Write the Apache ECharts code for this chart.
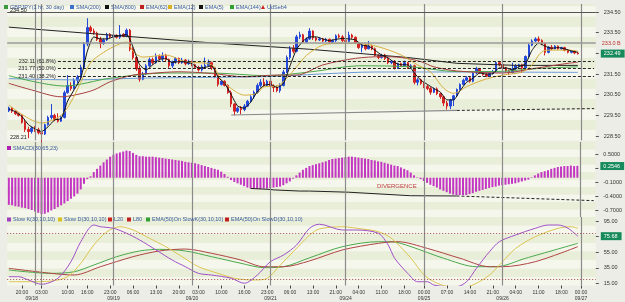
<!DOCTYPE html>
<html>
<head>
<meta charset="utf-8">
<style>
  html, body { margin: 0; padding: 0; background: #ecede6; }
  #chart { width: 625px; height: 302px; }
</style>
<script src="https://cdn.jsdelivr.net/npm/echarts@6/dist/echarts.min.js"></script>
</head>
<body>
<div id="chart"></div>
<script>
// GBPJPY hourly candles [open, close, low, high], 09/17 16:00 .. 09/26 23:00
var candles = [
  [229.72,229.86,229.66,229.92],[229.86,229.70,229.62,229.90],[229.70,229.58,229.52,229.74],[229.58,229.50,229.44,229.64],
  [229.50,229.16,229.10,229.55],[229.16,228.82,228.70,229.30],[228.82,228.72,228.40,228.95],[228.72,228.88,228.62,228.96],
  [228.88,228.80,228.70,228.98],[228.80,228.66,228.58,228.90],[228.66,228.60,228.21,228.78],[228.60,229.05,228.55,229.10],
  [229.05,229.40,229.00,229.48],[229.40,229.50,229.30,230.05],[229.50,229.30,229.22,229.58],[229.30,229.22,229.15,229.60],
  [229.22,229.40,229.18,229.48],[229.40,230.60,229.35,230.70],[230.60,230.95,230.55,231.45],[230.95,230.80,230.70,231.10],
  [230.80,231.20,230.75,231.30],[231.20,231.35,231.05,231.45],[231.35,231.82,231.25,231.95],[231.82,232.95,231.78,233.05],
  [232.95,233.75,232.85,234.20],[233.75,233.58,233.50,233.85],[233.58,233.48,233.40,233.70],[233.48,233.18,233.10,233.55],
  [233.18,232.98,232.75,233.30],[232.98,233.15,232.92,233.22],[233.15,233.42,233.10,233.50],[233.42,233.30,233.25,233.48],
  [233.30,233.38,233.25,233.45],[233.38,233.28,233.22,233.42],[233.28,233.42,233.20,233.87],[233.42,233.32,233.28,233.48],
  [233.32,233.62,233.28,233.70],[233.62,232.70,232.60,233.68],[232.70,232.30,232.20,232.80],[232.30,231.75,231.65,232.35],
  [231.75,231.25,231.13,231.90],[231.25,231.50,231.20,231.60],[231.50,231.90,231.45,231.98],[231.90,232.20,231.85,232.30],
  [232.20,232.05,231.95,232.30],[232.05,232.35,232.00,232.50],[232.35,232.25,232.15,232.45],[232.25,232.40,232.10,232.55],
  [232.40,232.20,232.10,232.48],[232.20,231.90,231.80,232.25],[231.90,232.10,231.80,232.15],[232.10,232.25,232.00,232.32],
  [232.25,232.05,231.98,232.30],[232.05,232.18,232.00,232.28],[232.18,232.00,231.92,232.22],[232.00,232.10,231.95,232.20],
  [232.10,231.95,231.88,232.15],[231.95,231.82,231.75,232.00],[231.82,231.70,231.62,231.90],[231.70,231.85,231.62,231.95],
  [231.85,231.92,231.80,232.30],[231.92,232.05,231.85,232.20],[232.05,231.80,231.70,232.10],[231.80,231.40,231.30,231.85],
  [231.40,231.00,230.90,231.45],[231.00,231.15,230.95,231.22],[231.15,230.95,230.90,231.20],[230.95,230.60,230.55,231.00],
  [230.60,230.05,229.90,230.70],[230.05,229.70,229.50,230.10],[229.70,229.85,229.62,229.92],[229.85,229.78,229.55,229.95],
  [229.78,229.95,229.70,230.05],[229.95,230.18,229.90,230.25],[230.18,230.40,230.10,230.48],[230.40,230.62,230.30,230.70],
  [230.62,230.95,230.55,231.05],[230.95,231.10,230.85,231.25],[231.10,230.95,230.88,231.30],[230.95,231.15,230.90,231.22],
  [231.15,230.92,230.85,231.20],[230.92,230.85,230.63,231.00],[230.85,230.70,230.62,230.95],[230.70,230.95,230.60,231.05],
  [230.95,231.60,230.90,231.70],[231.60,232.30,231.55,232.40],[232.30,232.75,232.20,232.85],[232.75,232.60,232.50,232.90],
  [232.60,233.30,232.55,233.40],[233.30,233.40,233.20,233.55],[233.40,233.05,233.00,233.45],[233.05,233.20,233.00,233.28],
  [233.20,233.58,233.15,233.72],[233.58,233.25,233.15,233.62],[233.25,233.15,233.08,233.30],[233.15,233.20,233.10,233.28],
  [233.20,233.10,233.05,233.25],[233.10,233.18,233.05,233.25],[233.18,233.05,232.98,233.22],[233.05,233.12,233.00,233.18],
  [233.12,233.35,233.05,233.42],[233.35,233.30,233.25,233.45],[233.30,233.12,233.05,233.38],[233.12,233.08,233.00,233.20],
  [233.08,233.38,233.05,233.55],[233.38,233.28,233.20,233.45],[233.28,233.00,232.95,233.32],[233.00,232.78,232.72,233.05],
  [232.78,232.90,232.55,232.95],[232.90,232.72,232.65,232.95],[232.72,232.85,232.70,233.10],[232.85,232.72,232.65,232.92],
  [232.72,232.40,232.35,232.78],[232.40,232.30,232.22,232.45],[232.30,232.42,232.25,232.48],[232.42,232.25,232.18,232.48],
  [232.25,232.05,231.98,232.30],[232.05,232.12,231.98,232.18],[232.12,231.80,231.72,232.18],[231.80,232.00,231.75,232.05],
  [232.00,231.92,231.85,232.05],[231.92,232.05,231.88,232.15],[232.05,231.82,231.75,232.08],[231.82,231.90,231.78,231.98],
  [231.90,231.10,231.00,231.95],[231.10,231.22,230.95,231.30],[231.22,231.05,230.98,231.28],[231.05,230.90,230.82,231.10],
  [230.90,230.80,230.72,230.98],[230.80,230.62,230.50,230.88],[230.62,230.78,230.58,230.85],[230.78,230.55,230.48,230.85],
  [230.55,230.40,230.30,230.60],[230.40,230.10,229.95,230.45],[230.10,229.95,229.78,230.20],[229.95,230.25,229.80,230.30],
  [230.25,230.45,229.95,230.50],[230.45,230.75,230.40,230.80],[230.75,231.00,230.70,231.05],[231.00,231.20,230.95,231.28],
  [231.20,231.32,231.15,231.40],[231.32,231.15,231.08,231.38],[231.15,231.55,231.10,231.62],[231.55,231.75,231.50,231.85],
  [231.75,231.58,231.50,231.80],[231.58,231.48,231.42,231.65],[231.48,231.40,231.35,231.55],[231.40,231.52,231.35,231.58],
  [231.52,231.62,231.48,231.70],[231.62,232.05,231.58,232.12],[232.05,231.95,231.88,232.12],[231.95,231.80,231.75,232.00],
  [231.80,231.65,231.58,231.85],[231.65,231.58,231.45,231.72],[231.58,231.75,231.52,232.05],[231.75,231.90,231.70,231.98],
  [231.90,231.95,231.82,232.00],[231.95,231.80,231.55,232.00],[231.80,232.35,231.75,232.40],[232.35,232.90,232.30,232.98],
  [232.90,233.10,232.85,233.18],[233.10,233.20,233.05,233.28],[233.20,233.12,233.05,233.32],[233.12,232.98,232.90,233.18],
  [232.98,232.55,232.40,233.02],[232.55,232.80,232.50,232.85],[232.80,232.72,232.65,232.90],[232.72,232.85,232.70,232.90],
  [232.85,232.72,232.68,232.88],[232.72,232.78,232.68,232.82],[232.78,232.65,232.60,232.82],[232.65,232.55,232.50,232.70],
  [232.55,232.60,232.50,232.64],[232.60,232.52,232.46,232.64],[232.52,232.49,232.44,232.58]
];

// moving averages, [bar index, value]
var ema5 = [[0,229.80],[2,229.68],[4,229.45],[6,229.05],[8,228.85],[10,228.72],[12,228.95],[14,229.28],[16,229.35],[18,230.2],
  [20,230.75],[22,231.3],[24,232.6],[26,233.3],[28,233.2],[30,233.2],[32,233.3],[34,233.35],[36,233.42],[38,232.8],[40,231.95],
  [42,231.7],[44,231.95],[46,232.2],[48,232.25],[50,232.05],[52,232.1],[54,232.08],[56,232.0],[58,231.8],[60,231.82],[62,231.9],
  [64,231.35],[66,231.05],[68,230.5],[70,229.95],[72,229.85],[74,230.15],[76,230.65],[78,230.95],[80,231.0],[82,230.85],[84,231.05],
  [86,231.9],[88,232.7],[90,233.1],[92,233.3],[94,233.3],[96,233.2],[98,233.12],[100,233.18],[102,233.22],[104,233.2],[106,233.15],
  [108,232.9],[110,232.85],[112,232.65],[114,232.42],[116,232.28],[118,232.05],[120,231.95],[122,231.95],[124,231.55],[126,231.2],
  [128,231.0],[130,230.8],[132,230.62],[134,230.25],[136,230.25],[138,230.7],[140,231.1],[142,231.3],[144,231.55],[146,231.5],
  [148,231.52],[150,231.8],[152,231.8],[154,231.7],[156,231.85],[158,232.0],[160,232.65],[162,233.0],[164,232.85],[166,232.75],
  [168,232.78],[170,232.72],[172,232.62],[174,232.55]];
var ema12 = [[0,230.0],[10,229.13],[16,229.5],[19,230.15],[22,231.1],[25,232.05],[29,232.55],[33,232.9],[36,233.05],[38,232.6],
  [41,232.32],[48,232.42],[54,232.1],[62,231.94],[65,231.2],[68,230.8],[72,230.48],[76,230.57],[78,230.88],[82,230.92],[85,231.3],
  [88,231.85],[91,232.4],[96,232.9],[101,232.98],[107,232.98],[113,232.82],[120,232.42],[125,231.94],[129,231.6],[133,230.81],
  [136,230.57],[140,230.89],[145,231.21],[151,231.45],[157,231.6],[160,231.94],[163,232.58],[166,232.66],[171,232.66],[174,232.61]];
var ema62 = [[0,231.05],[7,230.73],[16,230.4],[20,230.48],[26,230.73],[31,231.13],[38,231.45],[43,231.53],[52,231.61],[62,231.53],
  [72,231.37],[82,231.45],[88,231.45],[96,231.94],[106,232.26],[114,232.34],[120,232.3],[126,232.1],[130,231.85],[137,231.65],
  [151,231.55],[161,231.78],[171,232.02],[174,232.07]];
var ema144 = [[0,231.42],[17,230.92],[31,231.3],[48,231.55],[62,231.55],[79,231.42],[93,231.62],[107,231.9],[123,231.85],
  [137,231.62],[148,231.62],[163,231.78],[174,231.85]];
var sma200 = [[0,231.28],[20,231.22],[40,231.3],[60,231.34],[80,231.38],[95,231.5],[112,231.6],[140,231.6],[174,231.58]];
var sma800 = [[0,233.77],[30,233.40],[61,233.02],[92,232.7],[122,232.3],[137,232.02],[155,231.92],[174,231.92]];

// SMACD(30,65,23) histogram
var macd = [-0.58,-0.59,-0.61,-0.62,-0.64,-0.65,-0.67,-0.69,-0.72,-0.75,-0.78,-0.77,-0.74,-0.70,-0.67,-0.63,-0.59,-0.55,-0.50,-0.45,
  -0.40,-0.34,-0.25,-0.13,-0.03,0.03,0.12,0.19,0.26,0.33,0.39,0.45,0.49,0.52,0.54,0.56,0.58,0.57,0.53,0.49,
  0.46,0.46,0.45,0.45,0.45,0.44,0.43,0.42,0.41,0.40,0.39,0.38,0.37,0.36,0.34,0.33,0.32,0.31,0.29,0.27,
  0.25,0.23,0.21,0.19,0.17,0.13,0.08,0.02,-0.05,-0.09,-0.12,-0.15,-0.18,-0.21,-0.23,-0.24,-0.24,-0.24,-0.23,-0.23,
  -0.22,-0.21,-0.20,-0.19,-0.16,-0.12,-0.08,-0.02,0.05,0.11,0.17,0.21,0.25,0.27,0.29,0.31,0.33,0.35,0.38,0.40,
  0.41,0.42,0.43,0.44,0.45,0.45,0.44,0.43,0.42,0.41,0.40,0.38,0.37,0.35,0.34,0.32,0.30,0.28,0.26,0.25,
  0.22,0.19,0.16,0.11,0.05,0.01,-0.03,-0.07,-0.11,-0.15,-0.18,-0.21,-0.25,-0.28,-0.31,-0.34,-0.36,-0.37,-0.37,-0.37,
  -0.37,-0.35,-0.33,-0.30,-0.28,-0.26,-0.24,-0.22,-0.20,-0.19,-0.17,-0.16,-0.15,-0.14,-0.13,-0.12,-0.10,-0.08,-0.06,-0.04,
  0.01,0.05,0.09,0.12,0.14,0.16,0.19,0.21,0.23,0.24,0.25,0.25,0.26,0.25,0.2546];
var divSolid = [[74,-0.23],[80,-0.25],[81,-0.26],[89,-0.285],[92,-0.285],[104,-0.31],[123,-0.385],[137,-0.39]];
var divDashed = [[137,-0.39],[179,-0.49]];

// slow stochastic
var slowK = [[0,23.7],[3,23.7],[6,19.5],[10,14],[15,21.7],[19,43],[22,68.6],[26,90],[28,87.8],[32,85.8],[36,79.4],[40,70.8],
  [45,58],[50,45],[54,36.5],[58,28],[62,25.9],[68,21.7],[72,15.3],[76,25.9],[80,43],[84,51.5],[88,64.4],[92,86],[95,91],
  [102,83.6],[106,83.6],[113,79.4],[116,64.4],[118,47.3],[122,28],[125,17.3],[128,17.3],[130,13],[134,11],[137,11],[140,17.3],
  [143,34.5],[147,55.8],[150,68.6],[155,77.2],[161,85.8],[165,90],[168,90],[171,85.8],[174,75.68]];
var slowD = [[0,17.3],[7,17.3],[13,18.2],[18,23.7],[22,40.9],[26,64.4],[30,81.4],[34,87.8],[38,83.6],[43,73],[48,62.2],
  [53,49.4],[58,36.5],[64,28],[69,21.7],[75,19.5],[79,21.7],[83,38.7],[87,55.8],[92,77.2],[95,85],[102,87.8],[108,84.9],
  [113,81.4],[117,73],[123,47.3],[127,25.9],[131,15.3],[135,11],[140,11],[143,15.3],[147,25.9],[151,43],[155,60],[161,75],
  [168,85.8],[172,87.8],[174,85.8]];
var emaK = [[0,32.3],[13,28],[20,30.1],[26,38.7],[33,49.4],[40,56.7],[46,58.8],[54,56.7],[62,49.4],[71,40.9],[78,35.3],
  [84,36.5],[92,48],[102,62.2],[113,68.6],[117,68.6],[123,62.2],[133,47.3],[143,36.5],[149,36.5],[158,47.3],[174,66.5]];
var emaD = [[0,34.5],[13,28],[20,25.9],[28,36.5],[38,49.4],[46,56.7],[54,59.2],[62,53.7],[71,45.1],[78,36.5],[84,36.5],
  [92,44],[102,58],[113,66.5],[119,68.6],[128,60],[138,47.3],[147,36.5],[151,36.5],[161,43],[174,62.2]];

// axis text
var timeTicks = [[4,'20:00'],[10,'03:00'],[18,'10:00'],[24,'16:00'],[31,'23:00'],[38,'06:00'],[45,'13:00'],[52,'20:00'],
  [58,'03:00'],[65,'10:00'],[72,'16:00'],[79,'23:00'],[86,'06:00'],[93,'13:00'],[100,'21:00'],[107,'04:00'],[114,'11:00'],
  [121,'18:00'],[127,'00:00'],[134,'07:00'],[141,'14:00'],[148,'21:00'],[155,'04:00'],[162,'11:00'],[169,'18:00'],[175,'00:00']];
var dateTicks = [[7,'09/18'],[32,'09/19'],[56,'09/20'],[80,'09/21'],[103,'09/24'],[127,'09/25'],[151,'09/26'],[175,'09/27']];
var dayBreaks = [8, 10, 32, 56, 80, 103, 127, 151, 175];
var priceTicks = [228.5, 229.5, 230.5, 231.5, 232.5, 233.5, 234.5];
var macdTicks = [-0.7, -0.4, -0.1, 0.2, 0.5];
var stochTicks = [15, 35, 55, 75, 95];
var fibLevels = [[232.11, '61.8%'], [231.77, '50.0%'], [231.40, '38.2%']];

var NCAT = 180;
var cats = [];
for (var i = 0; i < NCAT; i++) cats.push(String(i));
var timeMap = {}, dateMap = {};
timeTicks.forEach(function (t) { timeMap[t[0]] = t[1]; });
dateTicks.forEach(function (t) { dateMap[t[0]] = t[1]; });

var FONT = 'Liberation Sans';
var LEFT = 7.2, WIDTH = 588.6;
var NOLINE = { color: 'rgba(0,0,0,0)', width: 0 };

var myChart = echarts.init(document.getElementById('chart'));

function dayLines() {
  return dayBreaks.map(function (i) { return { xAxis: i }; });
}
function boxLabel(txt) {
  return {
    show: true, position: 'end', formatter: txt, color: '#fff', backgroundColor: '#178a5c',
    padding: [1, 4, 1, 3], fontSize: 5.5, fontFamily: FONT, distance: 5
  };
}
function hiddenCat(gi) {
  return {
    type: 'category', gridIndex: gi, data: cats, boundaryGap: true,
    axisLine: { show: false }, axisTick: { show: false }, axisLabel: { show: false }, splitLine: { show: false }
  };
}
function valueAxis(gi, min, max, ticks, digits) {
  return {
    type: 'value', gridIndex: gi, position: 'right', min: min, max: max, scale: true,
    axisLine: { show: false },
    axisTick: { show: true, customValues: ticks, length: 3, lineStyle: { color: '#555' } },
    axisLabel: {
      customValues: ticks, margin: 8, fontSize: 5.5, color: '#333', fontFamily: FONT,
      formatter: function (v) { return v.toFixed(digits); }
    },
    splitLine: { show: false }
  };
}
function bandAxis(gi, max, step) {
  return {
    type: 'value', gridIndex: gi, min: 0, max: max, interval: step, position: 'left',
    axisLine: { show: false }, axisTick: { show: false }, axisLabel: { show: false }, splitLine: { show: false },
    splitArea: { show: true, areaStyle: { color: ['#f5f7ec', '#e9eed9'] } }
  };
}
function line(name, data, color, xi, yi, extra) {
  var s = {
    name: name, type: 'line', data: data, xAxisIndex: xi, yAxisIndex: yi, symbol: 'none',
    smooth: 0.3, connectNulls: true, lineStyle: { color: color, width: 1 }, silent: true
  };
  for (var k in extra) s[k] = extra[k];
  return s;
}

// legend rows as plain text, drawn above the panel stripes
var graphics = [];
function legendRow(y, items) {
  items.forEach(function (it) {
    if (it.tri) {
      graphics.push({ type: 'polygon', z: 100, shape: { points: [[it.x, y + 2], [it.x + 4, y + 2], [it.x + 2, y - 2]] }, style: { fill: it.c } });
    } else {
      graphics.push({ type: 'rect', z: 100, shape: { x: it.x, y: y - 2, width: 4, height: 4 }, style: { fill: it.c } });
    }
    graphics.push({ type: 'text', z: 100, x: it.x + 6, y: y, style: { text: it.t, fill: '#3a5aa0', font: '5.5px "' + FONT + '"', verticalAlign: 'middle' } });
  });
}
legendRow(7, [
  { x: 4, c: '#3c9a3c', t: 'GBPJPY(1 hr, 30 day)' }, { x: 70, c: '#3b6fd0', t: 'SMA(200)' },
  { x: 105, c: '#111', t: 'SMA(800)' }, { x: 140, c: '#c02020', t: 'EMA(62)' }, { x: 168, c: '#d8b020', t: 'EMA(12)' },
  { x: 199, c: '#111', t: 'EMA(5)' }, { x: 230, c: '#30a030', t: 'EMA(144)' }, { x: 261, c: '#d02020', t: 'UdSeb4', tri: true }
]);
legendRow(148, [{ x: 7, c: '#b020b0', t: 'SMACD(30,65,23)' }]);
legendRow(219.5, [
  { x: 7, c: '#a040c0', t: 'Slow K(30,10,10)' }, { x: 58, c: '#d8c020', t: 'Slow D(30,10,10)' },
  { x: 108, c: '#d02020', t: 'L20' }, { x: 127, c: '#c02020', t: 'L80' },
  { x: 146, c: '#30a030', t: 'EMA(50)On SlowK(30,10,10)' }, { x: 225, c: '#c02020', t: 'EMA(50)On SlowD(30,10,10)' }
]);
graphics.push({ type: 'text', z: 100, x: 10, y: 10, style: { text: '234.50', fill: '#222', font: '5.5px "' + FONT + '"', verticalAlign: 'middle' } });
graphics.push({ type: 'text', z: 100, x: 10, y: 137, style: { text: '228.21', fill: '#222', font: '5.5px "' + FONT + '"', verticalAlign: 'middle' } });
graphics.push({ type: 'text', z: 100, x: 377, y: 186, style: { text: 'DIVERGENCE', fill: '#c04040', font: '6px "' + FONT + '"', verticalAlign: 'middle' } });

var priceMarks = dayLines().concat([
  { yAxis: 234.5, lineStyle: { color: '#555', width: 1, type: 'solid' } },
  { yAxis: 233.0, lineStyle: { color: '#9a9a9a', width: 1.5, type: 'solid' },
    label: { show: true, position: 'end', formatter: '233.0 B', color: '#c03030', fontSize: 5.5, fontFamily: FONT, distance: 6 } },
  { yAxis: 232.49, lineStyle: NOLINE, label: boxLabel('232.49') },
  [{ coord: [68, 229.52] }, { coord: [137, 229.74] }],
  [{ coord: [137, 229.74], lineStyle: { type: [3, 2], color: '#222', width: 1 } }, { coord: [179, 229.83] }]
]);
fibLevels.forEach(function (f) {
  priceMarks.push([
    { coord: [15, f[0]], lineStyle: { type: [3, 2], color: '#222', width: 1 },
      label: { show: true, position: 'start', formatter: f[0].toFixed(2) + ' (' + f[1] + ')', color: '#222', fontSize: 5.5, fontFamily: FONT, distance: 2 } },
    { coord: [179, f[0]] }
  ]);
});

var option = {
  animation: false,
  backgroundColor: '#ecede6',
  textStyle: { fontFamily: FONT },
  grid: [
    { left: LEFT, width: WIDTH, top: 4, height: 136.4 },
    { left: LEFT, width: WIDTH, top: 142, height: 75 },
    { left: LEFT, width: WIDTH, top: 217, height: 68.5 }
  ],
  xAxis: [
    hiddenCat(0), hiddenCat(1),
    {
      type: 'category', gridIndex: 2, data: cats, boundaryGap: true, position: 'bottom',
      axisLine: { show: false },
      axisTick: { show: true, alignWithLabel: true, length: 3, lineStyle: { color: '#444' },
        interval: function (idx) { return timeMap[idx] !== undefined; } },
      axisLabel: { fontSize: 5, color: '#333', margin: 5, fontFamily: FONT,
        interval: function (idx) { return timeMap[idx] !== undefined; },
        formatter: function (v, idx) { return timeMap[idx] || ''; } },
      splitLine: { show: false }
    },
    {
      type: 'category', gridIndex: 2, data: cats, boundaryGap: true, position: 'bottom',
      axisLine: { show: false }, axisTick: { show: false },
      axisLabel: { fontSize: 5, color: '#333', margin: 10.5, fontFamily: FONT,
        interval: function (idx) { return dateMap[idx] !== undefined; },
        formatter: function (v, idx) { return dateMap[idx] || ''; } },
      splitLine: { show: false }
    }
  ],
  yAxis: [
    valueAxis(0, 228.29, 234.89, priceTicks, 2), bandAxis(0, 6.6, 0.5),
    valueAxis(1, -0.84, 0.764, macdTicks, 4), bandAxis(1, 1.6, 0.16),
    valueAxis(2, 12.44, 100.26, stochTicks, 2), bandAxis(2, 88, 11)
  ],
  graphic: { elements: graphics },
  series: [
    {
      name: 'GBPJPY', type: 'candlestick', data: candles, xAxisIndex: 0, yAxisIndex: 0, barWidth: 2,
      itemStyle: { color: '#2448d8', color0: '#d42222', borderColor: '#2448d8', borderColor0: '#d42222', borderWidth: 1 },
      markLine: { silent: true, symbol: ['none', 'none'], label: { show: false },
        lineStyle: { color: '#8a8a8a', width: 1.2, type: 'solid' }, data: priceMarks }
    },
    line('SMA(200)', sma200, '#6a9ad8', 0, 0),
    line('SMA(800)', sma800, '#222', 0, 0, { smooth: 0 }),
    line('EMA(144)', ema144, '#4aa84a', 0, 0),
    line('EMA(62)', ema62, '#a84040', 0, 0),
    line('EMA(12)', ema12, '#d8b040', 0, 0),
    line('EMA(5)', ema5, '#111', 0, 0, { smooth: 0.2 }),
    {
      name: 'SMACD(30,65,23)', type: 'bar', data: macd, xAxisIndex: 1, yAxisIndex: 2, barWidth: 2,
      itemStyle: { color: '#c236c2' }, silent: true,
      markLine: { silent: true, symbol: ['none', 'none'], label: { show: false },
        lineStyle: { color: '#8a8a8a', width: 1.2, type: 'solid' },
        data: dayLines().concat([{ yAxis: 0.2546, lineStyle: NOLINE, label: boxLabel('0.2546') }]) }
    },
    line('div', divSolid, '#222', 1, 2, { smooth: 0 }),
    line('div2', divDashed, '#222', 1, 2, { smooth: 0, lineStyle: { color: '#222', width: 1, type: [3, 2] } }),
    line('EMA(50)On SlowK(30,10,10)', emaK, '#4aa84a', 2, 4, {
      markLine: { silent: true, symbol: ['none', 'none'], label: { show: false },
        lineStyle: { color: '#8a8a8a', width: 1.2, type: 'solid' },
        data: dayLines().concat([
          { yAxis: 20, lineStyle: { color: '#a04848', width: 1, type: [1, 2] } },
          { yAxis: 80, lineStyle: { color: '#a04848', width: 1, type: [1, 2] } },
          { yAxis: 75.68, lineStyle: NOLINE, label: boxLabel('75.68') }
        ]) }
    }),
    line('EMA(50)On SlowD(30,10,10)', emaD, '#b04444', 2, 4),
    line('Slow D(30,10,10)', slowD, '#dcc450', 2, 4),
    line('Slow K(30,10,10)', slowK, '#a050c8', 2, 4)
  ]
};
myChart.setOption(option);
</script>
</body>
</html>
